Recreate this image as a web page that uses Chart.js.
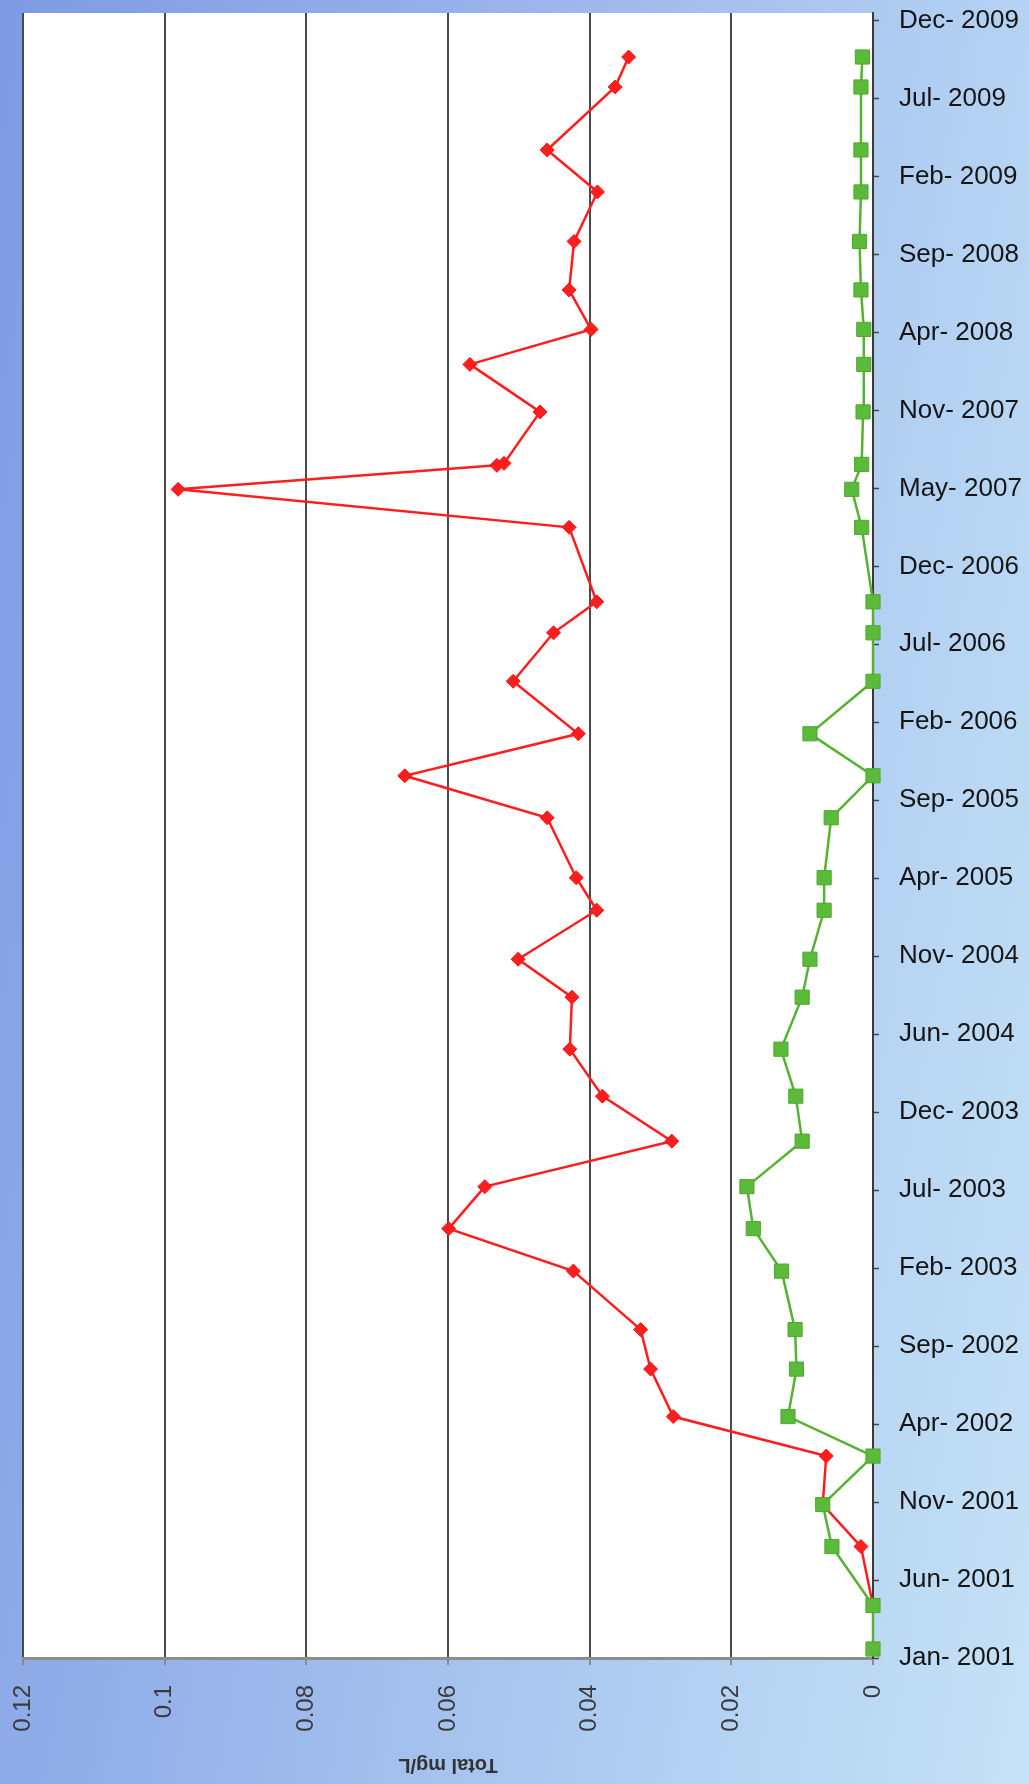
<!DOCTYPE html>
<html>
<head>
<meta charset="utf-8">
<script src="https://cdn.jsdelivr.net/npm/chart.js@4/dist/chart.umd.min.js"></script>
<style>
  html, body { margin: 0; padding: 0; overflow: hidden; }
  body {
    width: 1029px; height: 1784px;
    background: linear-gradient(100deg, #7e9ae3 0%, #96b2ea 35%, #b0cef1 70%, #c6e2f7 100%);
  }
  canvas { display: block; }
</style>
</head>
<body>
<canvas id="chart" width="1029" height="1784"></canvas>
<script>
// Date axis: labels every 156 days starting 1 Jan 2001
const dateTickLabels = [
  'Jan- 2001', 'Jun- 2001', 'Nov- 2001', 'Apr- 2002', 'Sep- 2002', 'Feb- 2003',
  'Jul- 2003', 'Dec- 2003', 'Jun- 2004', 'Nov- 2004', 'Apr- 2005', 'Sep- 2005',
  'Feb- 2006', 'Jul- 2006', 'Dec- 2006', 'May- 2007', 'Nov- 2007', 'Apr- 2008',
  'Sep- 2008', 'Feb- 2009', 'Jul- 2009', 'Dec- 2009'
];
const dateTickStepDays = 156;
const axisStartDate = '2001-01-01';
const axisEndDate = '2010-01-05';

// Concentration axis (mg/L)
const valueMin = 0;
const valueMax = 0.12;
const valueStep = 0.02;
const valueTitle = 'Total mg/L';

// Green series: sample dates and values
const greenDates = [
  '2001-01-19', '2001-04-16', '2001-08-12', '2001-11-04', '2002-02-09', '2002-04-29',
  '2002-08-02', '2002-10-20', '2003-02-14', '2003-05-10', '2003-08-02', '2003-11-01',
  '2004-01-30', '2004-05-03', '2004-08-15', '2004-10-30', '2005-02-05', '2005-04-11',
  '2005-08-09', '2005-11-01', '2006-01-24', '2006-05-09', '2006-08-14', '2006-10-15',
  '2007-03-13', '2007-05-28', '2007-07-17', '2007-10-30', '2008-02-02', '2008-04-12',
  '2008-06-30', '2008-10-05', '2009-01-12', '2009-04-06', '2009-08-10', '2009-10-09'
];
const greenValues = [
  0, 0, 0.0058, 0.0071, 0, 0.0120,
  0.0108, 0.0110, 0.0129, 0.0169, 0.0178, 0.0100,
  0.0109, 0.0130, 0.0100, 0.0089, 0.0069, 0.0069,
  0.0059, 0, 0.0089, 0, 0, 0,
  0.0016, 0.0030, 0.0016, 0.0014, 0.0013, 0.0013,
  0.0017, 0.0019, 0.0017, 0.0017, 0.0017, 0.0015
];

// Red series: sample dates and values
const redDates = [
  '2001-04-16', '2001-08-12', '2001-11-04', '2002-02-09', '2002-04-29',
  '2002-08-02', '2002-10-20', '2003-02-14', '2003-05-10', '2003-08-02', '2003-11-01',
  '2004-01-30', '2004-05-03', '2004-08-15', '2004-10-30', '2005-02-05', '2005-04-11',
  '2005-08-09', '2005-11-01', '2006-01-24', '2006-05-09', '2006-08-14', '2006-10-15',
  '2007-03-13', '2007-05-28', '2007-07-15', '2007-07-19', '2007-10-30', '2008-02-02',
  '2008-04-12', '2008-06-30', '2008-10-05', '2009-01-12', '2009-04-06', '2009-08-10',
  '2009-10-09'
];
const redValues = [
  0, 0.0017, 0.0071, 0.0066, 0.0282,
  0.0314, 0.0328, 0.0423, 0.0599, 0.0548, 0.0284,
  0.0382, 0.0428, 0.0425, 0.0501, 0.0390, 0.0419,
  0.0460, 0.0661, 0.0416, 0.0508, 0.0451, 0.0390,
  0.0429, 0.0981, 0.0531, 0.0521, 0.0470, 0.0569,
  0.0398, 0.0429, 0.0422, 0.0389, 0.0460, 0.0364,
  0.0345
];

// Days elapsed since the start of the date axis
const MS_PER_DAY = 86400000;
function dayOffset(iso) {
  const [y, m, d] = iso.split('-').map(Number);
  const [y0, m0, d0] = axisStartDate.split('-').map(Number);
  return Math.round((Date.UTC(y, m - 1, d) - Date.UTC(y0, m0 - 1, d0)) / MS_PER_DAY);
}
function toPoints(dates, values) {
  return dates.map((dt, i) => ({ x: values[i], y: dayOffset(dt) }));
}

const FONT = "'Liberation Sans', Arial, sans-serif";

// White plot area behind the gridlines
const plotBackground = {
  id: 'plotBackground',
  beforeDraw(chart) {
    const { ctx, chartArea: a } = chart;
    ctx.save();
    ctx.fillStyle = '#ffffff';
    ctx.fillRect(a.left, a.top, a.right - a.left, a.bottom - a.top);
    ctx.restore();
  }
};

// Value-axis title, turned upside down under the rotated tick labels
const valueAxisTitle = {
  id: 'valueAxisTitle',
  afterDraw(chart) {
    const { ctx, chartArea: a } = chart;
    ctx.save();
    ctx.translate((a.left + a.right) / 2, 1765);
    ctx.rotate(Math.PI);
    ctx.font = 'bold 20px ' + FONT;
    ctx.fillStyle = '#333333';
    ctx.textAlign = 'center';
    ctx.textBaseline = 'middle';
    ctx.fillText(valueTitle, 0, 0);
    ctx.restore();
  }
};

new Chart(document.getElementById('chart'), {
  type: 'scatter',
  data: {
    datasets: [
      {
        label: 'Green',
        data: toPoints(greenDates, greenValues),
        showLine: true,
        borderColor: '#55b233',
        backgroundColor: '#5cba3a',
        borderWidth: 2.5,
        pointStyle: 'rect',
        pointRadius: 10,
        pointBorderColor: '#4ca82c',
        pointBorderWidth: 1,
        clip: false
      },
      {
        label: 'Red',
        data: toPoints(redDates, redValues),
        showLine: true,
        borderColor: '#ff1e1e',
        backgroundColor: '#ff1e1e',
        borderWidth: 2.5,
        pointStyle: 'rectRot',
        pointRadius: 7,
        pointBorderColor: '#f01818',
        pointBorderWidth: 1,
        clip: false
      }
    ]
  },
  options: {
    responsive: false,
    animation: false,
    devicePixelRatio: 1,
    layout: { padding: { left: 23, top: 13, right: 0, bottom: 0 } },
    plugins: { legend: { display: false }, tooltip: { enabled: false } },
    scales: {
      x: {
        type: 'linear',
        position: 'bottom',
        reverse: true,
        min: valueMin,
        max: valueMax,
        afterFit(scale) {
          scale.height = 126;
          scale.paddingLeft = 0;
          scale.paddingRight = 0;
        },
        ticks: {
          stepSize: valueStep,
          minRotation: 90,
          maxRotation: 90,
          padding: 20,
          color: '#3a3a3a',
          font: { family: FONT, size: 24 },
          callback: (v) => String(Number(v.toFixed(2)))
        },
        grid: {
          color: '#4a4a4a',
          lineWidth: 2,
          drawTicks: true,
          tickLength: 7,
          tickColor: '#8a8a8a',
          tickWidth: 2
        },
        border: { display: true, color: '#8c8c8c', width: 3 }
      },
      y: {
        type: 'linear',
        position: 'right',
        min: dayOffset(axisStartDate),
        max: dayOffset(axisEndDate),
        afterBuildTicks(scale) {
          scale.ticks = dateTickLabels.map((_, i) => ({ value: i * dateTickStepDays }));
        },
        afterFit(scale) {
          scale.width = 156;
          scale.paddingTop = 0;
          scale.paddingBottom = 0;
        },
        ticks: {
          autoSkip: false,
          padding: 20,
          color: '#151515',
          font: { family: FONT, size: 26 },
          callback: (v, i) => dateTickLabels[i]
        },
        grid: {
          drawOnChartArea: false,
          drawTicks: true,
          tickLength: 6,
          tickColor: '#444444',
          tickWidth: 1.5
        },
        border: { display: true, color: '#3a3a3a', width: 2 }
      }
    }
  },
  plugins: [plotBackground, valueAxisTitle]
});
</script>
</body>
</html>
